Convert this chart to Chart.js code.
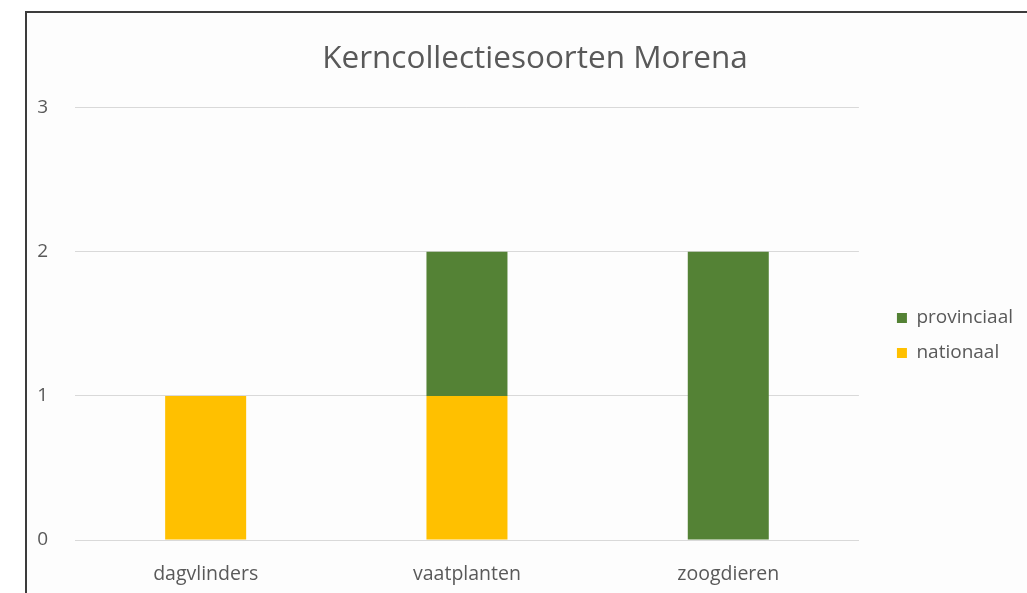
<!DOCTYPE html>
<html>
<head>
<meta charset="utf-8">
<script src="https://cdn.jsdelivr.net/npm/chart.js@4"></script>
<style>
  body { margin: 0; background: #fff; }
  #frame {
    position: absolute; left: 25px; top: 11px;
    width: 1002px; height: 582px;
    border-left: 2px solid #3c3c3c; border-top: 2px solid #3c3c3c;
    background: #fdfdfd;
  }
  #box { width: 1000px; height: 580px; }
</style>
</head>
<body>
<div id="frame"><div id="box"><canvas id="myChart"></canvas></div></div>
<script>
// data
const categories = ["dagvlinders", "vaatplanten", "zoogdieren"];
const nationaal = [1, 1, 0];
const provinciaal = [0, 1, 2];
const chartTitle = "Kerncollectiesoorten Morena";

const grey = "#595959";
const font = "'Open Sans', sans-serif";

// move legend a bit away from the plot and centre the title like excel does
const nudge = {
  id: "nudge",
  afterLayout: function (chart) {
    const lg = chart.legend;
    lg.left += 22; lg.right += 22;
    lg.top += 25; lg.bottom += 25;
    const t = chart.titleBlock;
    t.left += 21; t.right += 21;
  }
};

new Chart("myChart", {
  type: "bar",
  data: {
    labels: categories,
    datasets: [
      { label: "nationaal", data: nationaal, backgroundColor: "#FFC000", barPercentage: 0.62, categoryPercentage: 0.5 },
      { label: "provinciaal", data: provinciaal, backgroundColor: "#548235", barPercentage: 0.62, categoryPercentage: 0.5 }
    ]
  },
  plugins: [nudge],
  options: {
    responsive: true,
    maintainAspectRatio: false,
    animation: false,
    layout: { padding: { top: 15, bottom: 0, left: 0, right: 26 } },
    plugins: {
      title: {
        display: true,
        text: chartTitle,
        color: grey,
        font: { family: font, size: 31.5, weight: "normal" },
        padding: { top: 12, bottom: 30 }
      },
      legend: {
        position: "right",
        reverse: true,
        labels: {
          color: grey,
          font: { family: font, size: 19 },
          boxWidth: 10,
          boxHeight: 10,
          padding: 16
        }
      },
      tooltip: { enabled: false }
    },
    scales: {
      x: {
        stacked: true,
        grid: { display: false, drawTicks: false },
        border: { color: "#d9d9d9" },
        ticks: { color: grey, font: { family: font, size: 19.5 }, padding: 22.5 },
        afterFit: function (scale) { scale.height = 53; }
      },
      y: {
        stacked: true,
        min: 0,
        max: 3,
        grid: { color: "#d9d9d9", drawTicks: false },
        border: { display: false },
        ticks: { stepSize: 1, color: grey, font: { family: font, size: 19 }, padding: 27 },
        afterFit: function (scale) { scale.width = 48; }
      }
    }
  }
});
</script>
</body>
</html>
